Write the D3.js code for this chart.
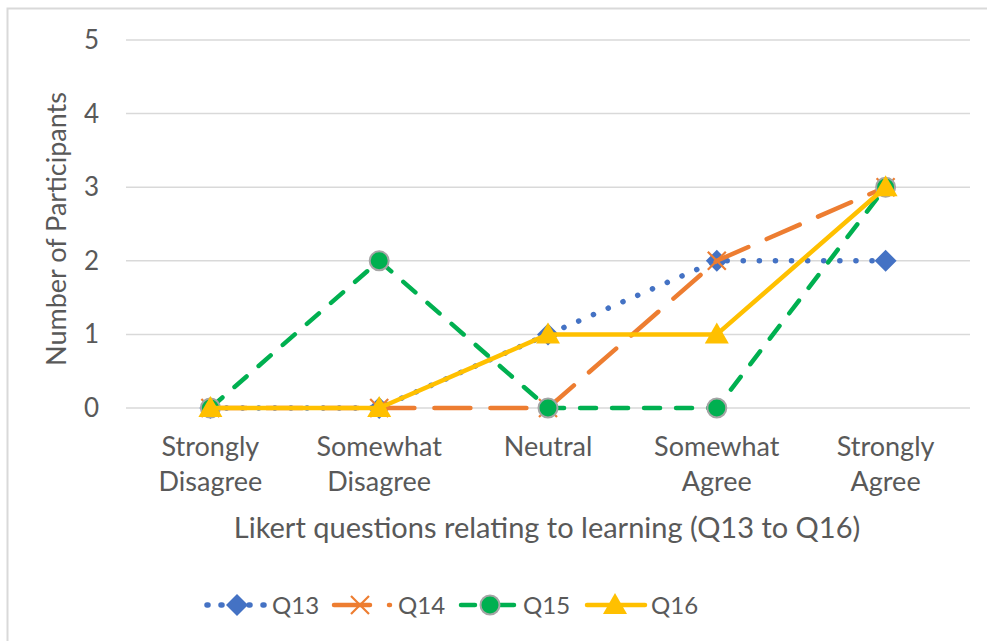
<!DOCTYPE html>
<html>
<head>
<meta charset="utf-8">
<script src="https://cdn.jsdelivr.net/npm/d3@7"></script>
<style>
  body { margin: 0; background: #fff; }
  text { font-family: Lato, "Open Sans", sans-serif; fill: #595959; }
</style>
</head>
<body>
<div id="chart"></div>
<script>
// data
const categories = [["Strongly", "Disagree"], ["Somewhat", "Disagree"], ["Neutral"], ["Somewhat", "Agree"], ["Strongly", "Agree"]];
const q13 = [0, 0, 1, 2, 2];
const q14 = [0, 0, 0, 2, 3];
const q15 = [0, 2, 0, 0, 3];
const q16 = [0, 0, 1, 1, 3];
const yTicks = [0, 1, 2, 3, 4, 5];
const seriesNames = ["Q13", "Q14", "Q15", "Q16"];

const W = 987, H = 641;
const pLeft = 126, pRight = 970, pTop = 40, pBottom = 408;

const svg = d3.select("#chart").append("svg")
  .attr("width", W).attr("height", H);

// chart border
svg.append("rect")
  .attr("x", 7.5).attr("y", 8.5).attr("width", 1000).attr("height", 700)
  .attr("fill", "none").attr("stroke", "#d9d9d9").attr("stroke-width", 2);

const x = d3.scalePoint().domain(d3.range(categories.length)).range([pLeft, pRight]).padding(0.5);
const y = d3.scaleLinear().domain([0, 5]).range([pBottom, pTop]);

// gridlines
svg.append("g").selectAll("line").data(yTicks).join("line")
  .attr("x1", pLeft).attr("x2", pRight)
  .attr("y1", d => y(d)).attr("y2", d => y(d))
  .attr("stroke", "#d9d9d9").attr("stroke-width", 1.5);

// y labels
svg.append("g").selectAll("text").data(yTicks).join("text")
  .attr("x", 99).attr("y", d => y(d) + 9)
  .attr("text-anchor", "end").attr("font-size", 26)
  .text(d => d);

// x labels
const xl = svg.append("g").selectAll("text").data(categories).join("text")
  .attr("text-anchor", "middle").attr("font-size", 27)
  .attr("x", (d, i) => x(i)).attr("y", 456);
xl.selectAll("tspan").data(d => d).join("tspan")
  .attr("x", function() { return d3.select(this.parentNode).attr("x"); })
  .attr("dy", (d, i) => i === 0 ? 0 : 35)
  .text(d => d);

// axis titles
svg.append("text").attr("x", 547).attr("y", 538).attr("text-anchor", "middle")
  .attr("font-size", 29).text("Likert questions relating to learning (Q13 to Q16)");
svg.append("text").attr("transform", "translate(66,229) rotate(-90)")
  .attr("text-anchor", "middle").attr("font-size", 27).text("Number of Participants");

const styles = [
  { data: q13, color: "#4472c4", dash: "0.1,16", width: 5.5, marker: "diamond" },
  { data: q14, color: "#ed7d31", dash: "36,20", width: 4.5, marker: "x" },
  { data: q15, color: "#00b050", dash: "16,16", width: 4.5, marker: "circle" },
  { data: q16, color: "#ffc000", dash: null, width: 4.5, marker: "triangle" }
];

function drawMarker(g, type, cx, cy, color) {
  if (type === "diamond") {
    g.append("path").attr("d", `M${cx},${cy - 11}L${cx + 11},${cy}L${cx},${cy + 11}L${cx - 11},${cy}Z`)
      .attr("fill", color);
  } else if (type === "x") {
    g.append("path").attr("d", `M${cx - 9},${cy - 9}L${cx + 9},${cy + 9}M${cx - 9},${cy + 9}L${cx + 9},${cy - 9}`)
      .attr("stroke", color).attr("stroke-width", 2.2).attr("fill", "none");
  } else if (type === "circle") {
    g.append("circle").attr("cx", cx).attr("cy", cy).attr("r", 9.5)
      .attr("fill", color).attr("stroke", "#a5a5a5").attr("stroke-width", 2);
  } else {
    g.append("path").attr("d", `M${cx},${cy - 12}L${cx + 12},${cy + 9}L${cx - 12},${cy + 9}Z`)
      .attr("fill", color);
  }
}

const line = d3.line().x((d, i) => x(i)).y(d => y(d));

styles.forEach(s => {
  const g = svg.append("g");
  g.append("path").datum(s.data).attr("d", line)
    .attr("fill", "none").attr("stroke", s.color).attr("stroke-width", s.width)
    .attr("stroke-linecap", "round").attr("stroke-linejoin", "round")
    .attr("stroke-dasharray", s.dash);
  s.data.forEach((v, i) => drawMarker(g, s.marker, x(i), y(v), s.color));
});

// legend
const legendX = [207, 334, 461, 587];
const legendDash = ["1,13", "36,19,1,30", "14,24,15,30", null];
const legendLen = [57, 57, 53, 58];
styles.forEach((s, i) => {
  const g = svg.append("g");
  const x0 = legendX[i], ly = 605, len = legendLen[i];
  g.append("line").attr("x1", x0).attr("x2", x0 + len).attr("y1", ly).attr("y2", ly)
    .attr("stroke", s.color).attr("stroke-width", s.width).attr("stroke-linecap", "round")
    .attr("stroke-dasharray", legendDash[i]);
  drawMarker(g, s.marker, x0 + [30, 26, 29, 28][i], ly, s.color);
  g.append("text").attr("x", x0 + [65, 64, 62, 64][i]).attr("y", ly + 9).attr("font-size", 24).text(seriesNames[i]);
});
</script>
</body>
</html>
